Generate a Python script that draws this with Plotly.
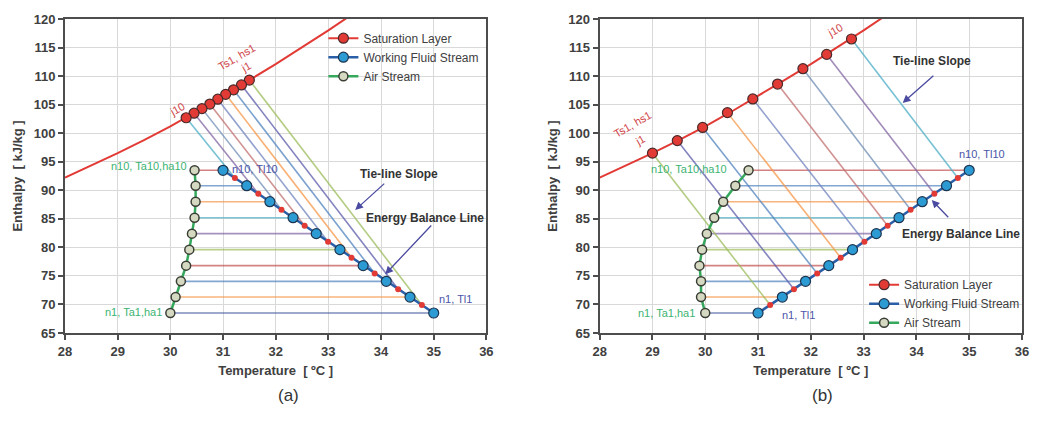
import numpy as np
import plotly.graph_objects as go
from plotly.subplots import make_subplots

# ---------------- data ----------------
# saturation curve (enthalpy of saturated air)
curve_T = [28.0, 28.5, 29.0, 29.5, 30.0, 30.5, 31.0, 31.5, 32.0, 32.5, 33.0, 33.4]
curve_h = [92.2, 94.3, 96.5, 98.8, 101.2, 103.8, 106.5, 109.3, 112.1, 115.0, 118.0, 120.5]

# panel (a)
a_sat_T = [31.5, 31.35, 31.2, 31.05, 30.9, 30.75, 30.6, 30.45, 30.3]
a_sat_h = [109.3, 108.45, 107.6, 106.8, 105.95, 105.1, 104.3, 103.5, 102.7]
a_water_T = [35.0, 34.55, 34.1, 33.66, 33.22, 32.77, 32.33, 31.89, 31.45, 31.0]
a_air_T = [30.0, 30.1, 30.2, 30.3, 30.36, 30.41, 30.46, 30.48, 30.48, 30.46]

# panel (b)
b_sat_T = [29.0, 29.47, 29.95, 30.42, 30.9, 31.37, 31.85, 32.3, 32.77]
b_sat_h = [96.5, 98.7, 101.0, 103.6, 106.0, 108.6, 111.3, 113.8, 116.5]
b_water_T = [31.0, 31.46, 31.9, 32.34, 32.79, 33.24, 33.67, 34.11, 34.57, 35.0]
b_air_T = [30.0, 29.92, 29.92, 29.89, 29.94, 30.03, 30.17, 30.34, 30.57, 30.82]

# node enthalpies (n1..n10), shared by both streams
node_h = [68.5, 71.3, 74.05, 76.8, 79.6, 82.4, 85.2, 88.0, 90.8, 93.5]

x_ticks = [28, 29, 30, 31, 32, 33, 34, 35, 36]
y_ticks = [65, 70, 75, 80, 85, 90, 95, 100, 105, 110, 115, 120]

# ---------------- styles ----------------
FONT = "Liberation Sans, Arial, sans-serif"
hline_colors = ["rgba(70,90,160,0.7)", "rgba(247,150,70,0.7)", "rgba(79,129,189,0.7)",
                "rgba(192,80,77,0.7)", "rgba(155,187,89,0.7)", "rgba(128,100,162,0.7)",
                "rgba(75,172,198,0.7)", "rgba(247,150,70,0.7)", "rgba(79,129,189,0.7)",
                "rgba(192,80,77,0.7)"]
tie_colors = ["rgba(155,187,89,0.75)", "rgba(90,90,170,0.75)", "rgba(79,129,189,0.75)",
              "rgba(247,150,70,0.75)", "rgba(110,130,190,0.75)", "rgba(192,110,110,0.75)",
              "rgba(110,140,180,0.75)", "rgba(128,100,162,0.75)", "rgba(75,172,198,0.75)"]
RED = "#e23b36"
BLUE = "#2d9bd3"
GREEN = "#35a85c"

fig = make_subplots(rows=1, cols=2, horizontal_spacing=0.1174)


def panel(col, sat_T, sat_h, water_T, air_T, legend_name):
    water_T = np.array(water_T)
    h = np.array(node_h)
    mid_T = (water_T[:-1] + water_T[1:]) / 2
    mid_h = (h[:-1] + h[1:]) / 2
    # horizontal lines air -> water
    for i in range(len(h)):
        fig.add_trace(go.Scatter(x=[air_T[i], water_T[i]], y=[h[i], h[i]], mode="lines",
                                 line=dict(color=hline_colors[i], width=1.6),
                                 showlegend=False, hoverinfo="skip"), row=1, col=col)
    # tie lines saturation -> energy balance line
    for i in range(len(sat_T)):
        fig.add_trace(go.Scatter(x=[sat_T[i], mid_T[i]], y=[sat_h[i], mid_h[i]], mode="lines",
                                 line=dict(color=tie_colors[i], width=1.6),
                                 showlegend=False, hoverinfo="skip"), row=1, col=col)
    # saturation curve
    fig.add_trace(go.Scatter(x=curve_T, y=curve_h, mode="lines", line=dict(color=RED, width=2),
                             showlegend=False, hoverinfo="skip"), row=1, col=col)
    # legend entry for saturation layer
    fig.add_trace(go.Scatter(x=[None], y=[None], mode="lines+markers", name="Saturation Layer",
                             line=dict(color=RED, width=2),
                             marker=dict(color=RED, size=10, line=dict(color="#4a2a2a", width=1.2)),
                             legend=legend_name), row=1, col=col)
    # saturation points
    fig.add_trace(go.Scatter(x=sat_T, y=sat_h, mode="markers",
                             marker=dict(color=RED, size=10, line=dict(color="#4a2a2a", width=1.2)),
                             showlegend=False), row=1, col=col)
    # working fluid stream
    fig.add_trace(go.Scatter(x=water_T, y=h, mode="lines+markers", name="Working Fluid Stream",
                             line=dict(color="#2a5fa8", width=2.5),
                             marker=dict(color=BLUE, size=10, line=dict(color="#1d3550", width=1.2)),
                             legend=legend_name), row=1, col=col)
    # interface points on energy balance line
    fig.add_trace(go.Scatter(x=mid_T, y=mid_h, mode="markers",
                             marker=dict(color=RED, size=6),
                             showlegend=False, hoverinfo="skip"), row=1, col=col)
    # air stream
    fig.add_trace(go.Scatter(x=air_T, y=h, mode="lines+markers", name="Air Stream",
                             line=dict(color=GREEN, width=2.5),
                             marker=dict(color="#d6d9c2", size=9, line=dict(color="#3a3f36", width=1.5)),
                             legend=legend_name), row=1, col=col)


panel(1, a_sat_T, a_sat_h, a_water_T, a_air_T, "legend")
panel(2, b_sat_T, b_sat_h, b_water_T, b_air_T, "legend2")

axis_common = dict(showline=True, linecolor="#4d4d4d", linewidth=2, mirror=True,
                   ticks="outside", ticklen=5, tickcolor="#4d4d4d", tickwidth=1.5,
                   showgrid=True, gridcolor="#d9d9d9", gridwidth=1, zeroline=False,
                   tickfont=dict(family=FONT, size=13, color="#404040", weight="bold"))

for i, dom in ((1, [0.0, 0.4403]), (2, [0.5587, 1.0])):
    fig.update_xaxes(range=[28, 36], tickvals=x_ticks, domain=dom,
                     title=dict(text="Temperature  [ ºC ]", standoff=8,
                                font=dict(family=FONT, size=13, color="#404040", weight="bold")),
                     **axis_common, row=1, col=i)
    fig.update_yaxes(range=[65, 120], tickvals=y_ticks,
                     title=dict(text="Enthalpy  [ kJ/kg ]", standoff=8,
                                font=dict(family=FONT, size=13, color="#404040", weight="bold")),
                     **axis_common, row=1, col=i)

annots = []


def txt(xref, yref, x, y, text, color, size=11, angle=0, bold=False):
    annots.append(dict(xref=xref, yref=yref, x=x, y=y, text=text, showarrow=False,
                       textangle=angle,
                       font=dict(family=FONT, size=size, color=color,
                                 weight="bold" if bold else "normal")))


def arrow(xref, yref, x_head, y_head, x_tail, y_tail):
    annots.append(dict(xref=xref, yref=yref, x=x_head, y=y_head, ax=x_tail, ay=y_tail,
                       axref=xref, ayref=yref, text="", showarrow=True, arrowhead=2,
                       arrowsize=1.2, arrowwidth=1.3, arrowcolor="#4a4aa0"))


SATC = "#d0454a"
GRC = "#3cb371"
BLC = "#4a55a8"
DK = "#333333"

# panel (a)
txt("x", "y", 31.26, 113.4, "Ts1, hs1", SATC, angle=-30)
txt("x", "y", 31.43, 111.6, "j1", SATC, angle=-30)
txt("x", "y", 30.13, 104.3, "j10", SATC, angle=-30)
txt("x", "y", 29.6, 94.3, "n10, Ta10,ha10", GRC)
txt("x", "y", 31.6, 93.8, "n10, Tl10", BLC)
txt("x", "y", 29.3, 68.6, "n1, Ta1,ha1", GRC)
txt("x", "y", 35.42, 70.9, "n1, Tl1", BLC)
txt("x", "y", 34.34, 92.8, "Tie-line Slope", DK, size=12, bold=True)
txt("x", "y", 34.83, 85.2, "Energy Balance Line", DK, size=12, bold=True)
arrow("x", "y", 33.51, 86.55, 34.09, 91.4)
arrow("x", "y", 34.08, 75.3, 34.98, 84.1)

# panel (b)
txt("x2", "y2", 28.63, 101.6, "Ts1, hs1", SATC, angle=-30)
txt("x2", "y2", 28.77, 98.85, "j1", SATC, angle=-30)
txt("x2", "y2", 32.46, 118.1, "j10", SATC, angle=-30)
txt("x2", "y2", 29.69, 93.8, "n10, Ta10,ha10", GRC)
txt("x2", "y2", 35.25, 96.4, "n10, Tl10", BLC)
txt("x2", "y2", 29.26, 68.45, "n1, Ta1,ha1", GRC)
txt("x2", "y2", 31.77, 68.1, "n1, Tl1", BLC)
txt("x2", "y2", 34.29, 112.6, "Tie-line Slope", DK, size=12, bold=True)
txt("x2", "y2", 34.84, 82.4, "Energy Balance Line", DK, size=12, bold=True)
arrow("x2", "y2", 33.74, 105.3, 34.35, 110.3)
arrow("x2", "y2", 34.29, 88.3, 34.63, 85.0)

# captions
annots.append(dict(xref="paper", yref="paper", x=0.221, y=-0.235, text="(a)", showarrow=False,
                   font=dict(family=FONT, size=17, color="#333333")))
annots.append(dict(xref="paper", yref="paper", x=0.805, y=-0.235, text="(b)", showarrow=False,
                   font=dict(family=FONT, size=17, color="#333333")))

legend_style = dict(font=dict(family=FONT, size=12, color="#404040"), bgcolor="rgba(255,255,255,0)",
                    itemwidth=30, tracegroupgap=0, xanchor="left", yanchor="top")

fig.update_layout(
    width=1041, height=422,
    margin=dict(l=65, r=13, t=14, b=89),
    paper_bgcolor="white", plot_bgcolor="white",
    annotations=annots,
    legend=dict(x=0.27, y=0.985, **legend_style),
    legend2=dict(x=0.835, y=0.2, **legend_style),
)

fig.write_html("out.html")
